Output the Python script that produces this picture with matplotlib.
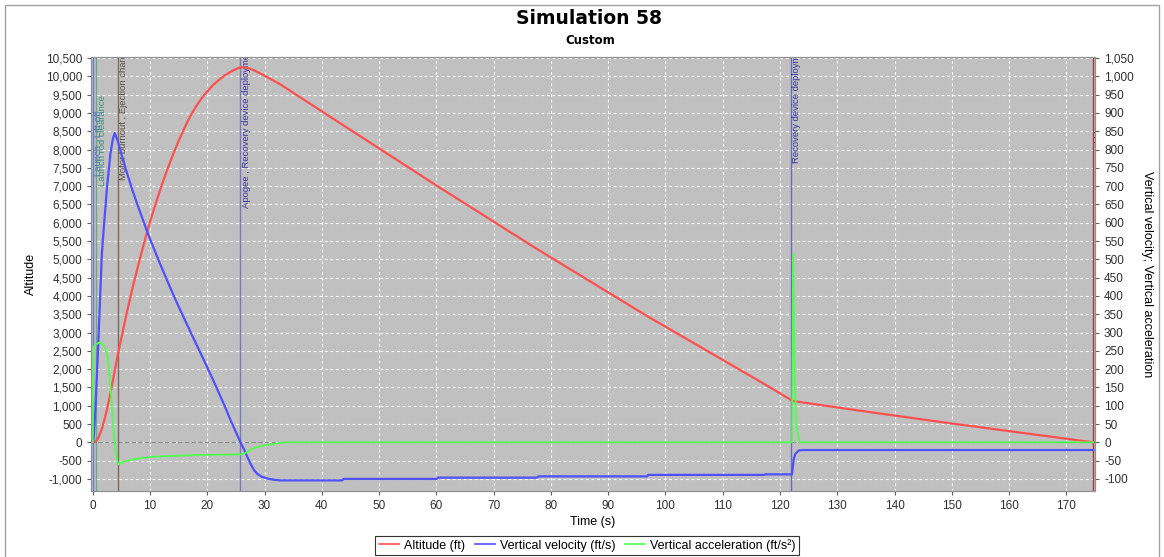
import matplotlib
matplotlib.use("Agg")
import matplotlib.pyplot as plt
import matplotlib.patches as mpatches
from matplotlib.ticker import FuncFormatter, MultipleLocator

# time (s) / altitude (ft)
alt_t = [0, 0.5, 0.9, 1.6, 2.5, 3.1, 3.5, 3.84, 4.4, 5, 6, 7, 8, 8.4, 9.48, 10, 11,
         12, 13, 14, 15, 16, 16.5, 17, 18, 19, 20, 21, 22, 23, 24, 25, 25.8, 27,
         28.2, 29.5, 30.5, 32.8, 36.3, 43.6, 60.1, 77.6, 96.8, 117.2, 122.1, 122.6,
         135.8, 150, 174.7]
alt_ft = [0, 20, 95, 360, 900, 1350, 1670, 1950, 2400, 2850, 3580, 4250, 4870, 5110,
          5740, 6020, 6530, 7005, 7445, 7855, 8235, 8580, 8750, 8900, 9170, 9400,
          9590, 9760, 9900, 10020, 10120, 10200, 10250, 10230, 10165, 10060, 9975,
          9780, 9420, 8680, 7010, 5280, 3450, 1600, 1141, 1120, 823, 515, 0]

# vertical velocity (ft/s)
vel_t = [0, 0.17, 0.5, 0.9, 1.2, 1.6, 2, 2.5, 3.1, 3.5, 3.84, 4.4, 5, 6, 7, 8, 9,
         9.48, 10, 11, 12, 13, 14, 15, 16.2, 17, 18, 19, 19.9, 21, 22, 23, 24, 25,
         25.8, 26.5, 27, 27.6, 28.2, 28.8, 29.5, 30.5, 31.5, 32.8, 43.6, 43.8, 60.1,
         60.3, 77.6, 77.8, 96.8, 97, 117.2, 117.4, 122.1, 122.4, 122.7, 123.3, 124,
         174.7]
vel_fts = [0, 10, 100, 243, 360, 516, 600, 698, 790, 828, 845, 822, 788, 735, 686,
           641, 598, 577, 556, 517, 479, 442, 406, 371, 331, 304, 271, 238, 208, 171,
           136, 101, 63, 28, 0, -22, -40, -60, -77, -87, -94, -99, -102, -104, -104,
           -100, -100, -96.5, -96.5, -93, -93, -89, -89, -87.5, -87.5, -45, -31, -22,
           -21, -21]

# vertical acceleration (ft/s^2)
acc_t = [0, 0.1, 0.17, 0.6, 1.3, 2.0, 2.5, 2.8, 3.1, 3.5, 3.96, 4.4, 5, 6, 8, 10, 14,
         18, 22, 25.8, 26.5, 27, 27.8, 28.7, 30, 31.6, 33, 34, 122.1, 122.3, 122.6,
         122.95, 123.5, 174.7]
acc_fts2 = [0, 200, 260, 268, 274, 262, 242, 204, 151, 60, -22, -60, -55, -50, -44,
            -40, -37, -35, -34, -33, -30, -26, -18, -13, -8, -4, -1, 0, 0, 515, 150,
            33, 0, 0]

# flight events: time, label, line colour, text colour, text bottom (ft)
ev_t = [0.0, 0.6, 4.4, 25.8, 121.9, 174.7]
ev_label = ["Launch , Lift-off", "Launch rod clearance", "Motor burnout , Ejection charge",
            "Apogee , Recovery device deployment", "Recovery device deployment", "Ground hit"]
ev_line = ["#5a7fd0", "#6fa58c", "#7a6a60", "#7a7abb", "#6a6ab8", "#b03838"]
ev_text = ["#4a70b8", "#3f8f78", "#5a4c44", "#35359a", "#35359a", "#a02828"]
ev_ybot = [7270, 7000, 7160, 6390, 7620, 7400]

W, H = 1164, 557
fig = plt.figure(figsize=(W / 100, H / 100), dpi=100)
fig.patches.append(mpatches.Rectangle((5 / W, -0.01), 1154 / W, 1 - 5 / H + 0.01,
                                      transform=fig.transFigure, fill=False,
                                      edgecolor="#a0a0a0", lw=1))

ax = fig.add_axes([91 / W, 1 - 491 / H, (1095 - 91) / W, (491 - 57) / H])
ax2 = ax.twinx()
ax.set_facecolor("#c0c0c0")

tick_font = {"family": ["Liberation Sans", "DejaVu Sans"], "size": 8.5}

ax.set_xlim(-0.3, 175.0)
ax.set_ylim(-1330, 10530)
ax2.set_ylim(-133, 1053)

ax.xaxis.set_major_locator(MultipleLocator(10))
ax.yaxis.set_major_locator(MultipleLocator(500))
ax2.yaxis.set_major_locator(MultipleLocator(50))
ax.yaxis.set_major_formatter(FuncFormatter(lambda v, p: f"{int(v):,}"))
ax2.yaxis.set_major_formatter(FuncFormatter(lambda v, p: f"{int(v):,}"))

ax.grid(True, color="white", ls=(0, (2.5, 2.5)), lw=0.8)
ax.set_axisbelow(True)
ax.axhline(0, color="#8a8a8a", ls=(0, (4, 2)), lw=0.8, zorder=1)

for a in (ax, ax2):
    for s in a.spines.values():
        s.set_color("#909090")
        s.set_linewidth(0.8)
    a.tick_params(colors="#606060", length=3, width=0.8, labelcolor="#303030")
    for lab in a.get_xticklabels() + a.get_yticklabels():
        lab.set_fontfamily(tick_font["family"])
        lab.set_fontsize(tick_font["size"])

# event markers
for t, lab, lc, tc, yb in zip(ev_t, ev_label, ev_line, ev_text, ev_ybot):
    ax.axvline(t, color=lc, lw=1.0, zorder=2)
    txt = ax.text(t + 0.25, yb, lab, rotation=90, ha="left", va="bottom", color=tc,
                  fontsize=6.8, family=["Liberation Sans Narrow", "Liberation Sans", "DejaVu Sans"],
                  zorder=3)
    txt.set_clip_on(True)

l1, = ax.plot(alt_t, alt_ft, color="#ff5050", lw=1.6, label="Altitude (ft)", zorder=4)
l2, = ax2.plot(vel_t, vel_fts, color="#5050ff", lw=1.6, label="Vertical velocity (ft/s)")
l3, = ax2.plot(acc_t, acc_fts2, color="#50ff50", lw=1.3, label="Vertical acceleration (ft/s\u00b2)")

lab_font = {"family": ["Liberation Sans", "DejaVu Sans"], "size": 9}
ax.set_xlabel("Time (s)", fontdict=lab_font, labelpad=3)
ax.set_ylabel("Altitude", fontdict=lab_font, labelpad=6)
ax2.set_ylabel("Vertical velocity; Vertical acceleration", fontdict=lab_font,
               rotation=-90, labelpad=14)

fig.text(589 / W, 1 - 19 / H, "Simulation 58", ha="center", va="center",
         fontsize=13.5, fontweight="bold", family="DejaVu Sans")
fig.text(590 / W, 1 - 40 / H, "Custom", ha="center", va="center",
         fontsize=8.5, fontweight="bold", family="DejaVu Sans")

leg = fig.legend(handles=[l1, l2, l3], loc="lower center", ncol=3,
                 bbox_to_anchor=(587 / W, -4 / H), frameon=True, fancybox=False,
                 edgecolor="black", handlelength=1.6, handletextpad=0.4,
                 columnspacing=0.8, borderpad=0.25,
                 prop={"family": ["Liberation Sans", "DejaVu Sans"], "size": 9})
leg.get_frame().set_linewidth(0.8)
for h in leg.get_lines():
    h.set_linewidth(1.2)

fig.savefig("out.png", dpi=100)
